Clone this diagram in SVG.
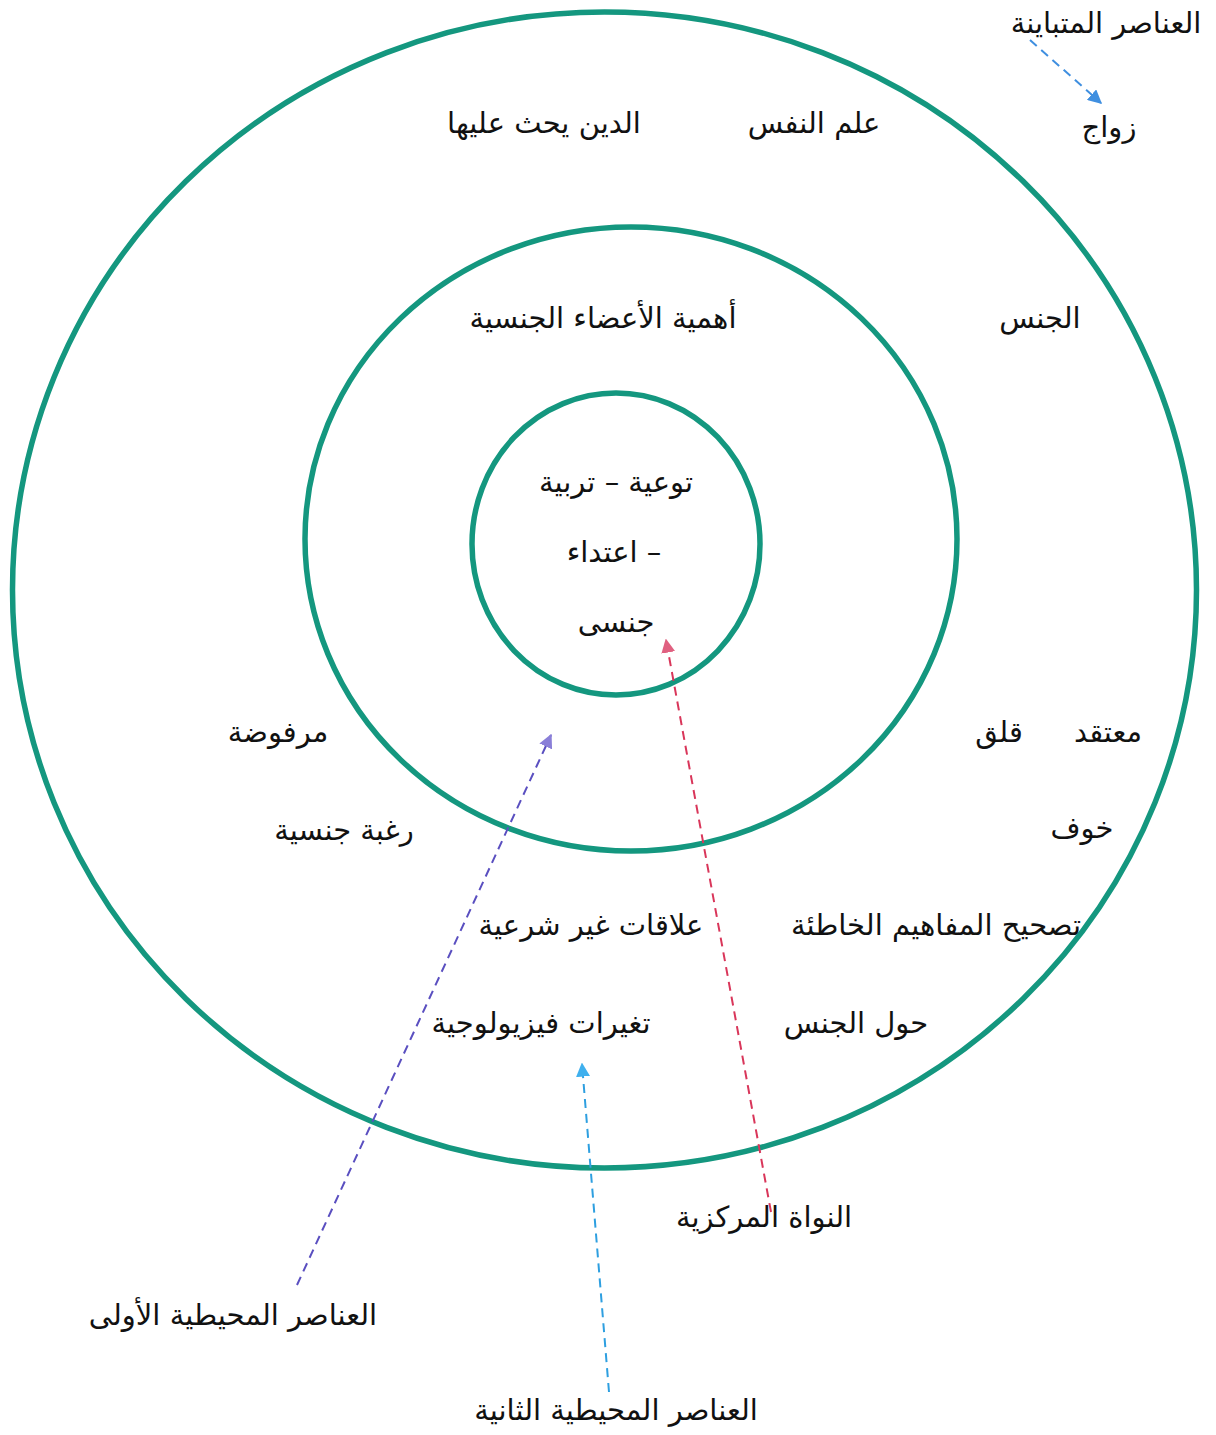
<svg xmlns="http://www.w3.org/2000/svg" width="1216" height="1435" viewBox="0 0 1216 1435">
<defs>
<style>
.ring{fill:none;stroke:#14977f;stroke-width:5.5}
.t{font-family:"DejaVu Sans","Liberation Sans",sans-serif;font-size:29px;fill:#111;text-anchor:middle;direction:rtl}
.c{fill:none;stroke-width:2;stroke-dasharray:9 6}
</style>
<marker id="mb" viewBox="0 0 10 10" refX="9" refY="5" markerWidth="14" markerHeight="14" markerUnits="userSpaceOnUse" orient="auto"><path d="M0,0L10,5L0,10z" fill="#3f8fe0"/></marker>
<marker id="mr" viewBox="0 0 10 10" refX="9" refY="5" markerWidth="14" markerHeight="14" markerUnits="userSpaceOnUse" orient="auto"><path d="M0,0L10,5L0,10z" fill="#e06080"/></marker>
<marker id="mp" viewBox="0 0 10 10" refX="9" refY="5" markerWidth="14" markerHeight="14" markerUnits="userSpaceOnUse" orient="auto"><path d="M0,0L10,5L0,10z" fill="#8a7fd8"/></marker>
<marker id="mc" viewBox="0 0 10 10" refX="9" refY="5" markerWidth="14" markerHeight="14" markerUnits="userSpaceOnUse" orient="auto"><path d="M0,0L10,5L0,10z" fill="#3fb0ee"/></marker>
</defs>
<rect width="1216" height="1435" fill="#fff"/>
<g id="outer"><ellipse class="ring" cx="604.5" cy="590" rx="592" ry="578"/></g>
<g id="middle"><ellipse class="ring" cx="631" cy="539" rx="326" ry="312"/></g>
<g id="inner"><ellipse class="ring" cx="616" cy="544" rx="144" ry="151"/></g>
<g id="labels-outer">
<text class="t" x="1106" y="33">العناصر المتباينة</text>
<text class="t" x="1109" y="137">زواج</text>
<text class="t" x="814" y="133">علم النفس</text>
<text class="t" x="544" y="133">الدين يحث عليها</text>
<text class="t" x="1040" y="328">الجنس</text>
<text class="t" x="278" y="742">مرفوضة</text>
<text class="t" x="1108" y="742">معتقد</text>
<text class="t" x="999" y="742">قلق</text>
<text class="t" x="344" y="840">رغبة جنسية</text>
<text class="t" x="1082" y="838">خوف</text>
<text class="t" x="591" y="935">علاقات غير شرعية</text>
<text class="t" x="936" y="935">تصحيح المفاهيم الخاطئة</text>
<text class="t" x="541" y="1033">تغيرات فيزيولوجية</text>
<text class="t" x="856" y="1033">حول الجنس</text>
</g>
<g id="labels-middle"><text class="t" x="603" y="328">أهمية الأعضاء الجنسية</text></g>
<g id="labels-inner">
<text class="t" x="616" y="492">توعية – تربية</text>
<text class="t" x="614" y="562">– اعتداء</text>
<text class="t" x="616" y="632">جنسى</text>
</g>
<g id="legend">
<text class="t" x="764" y="1227">النواة المركزية</text>
<text class="t" x="233" y="1325">العناصر المحيطية الأولى</text>
<text class="t" x="616" y="1420">العناصر المحيطية الثانية</text>
</g>
<g id="connectors">
<line class="c" x1="1030" y1="40" x2="1101" y2="103" stroke="#3f8fe0" marker-end="url(#mb)"/>
<line class="c" x1="771" y1="1212" x2="666" y2="640" stroke="#d9365a" marker-end="url(#mr)"/>
<line class="c" x1="297" y1="1285" x2="551" y2="735" stroke="#5a4fc0" marker-end="url(#mp)"/>
<line class="c" x1="609" y1="1392" x2="582" y2="1064" stroke="#2e9fe0" marker-end="url(#mc)"/>
</g>
</svg>
